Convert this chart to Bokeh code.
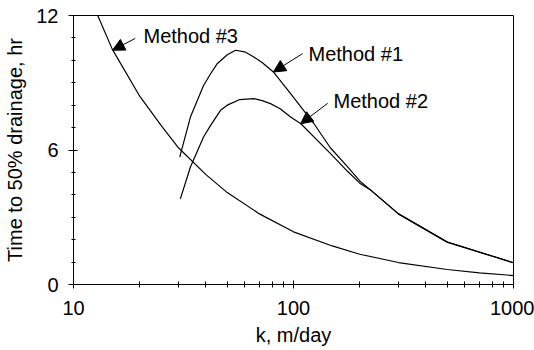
from bokeh.plotting import figure
from bokeh.models import FixedTicker, NumeralTickFormatter, Arrow, NormalHead, Label
from bokeh.embed import file_html
from bokeh.resources import INLINE

# --- data ---
k1 = [30.4, 34, 39, 42, 45, 50, 54.5, 60, 66, 72, 81, 97, 110, 124, 147, 175, 200, 225, 300, 500, 1000]
t1 = [5.68, 7.47, 8.88, 9.4, 9.85, 10.25, 10.45, 10.38, 10.15, 9.9, 9.48, 8.51, 7.82, 7.17, 6.1, 5.28, 4.62, 4.2, 3.15, 1.89, 0.97]

k2 = [30.6, 34, 39, 42, 46.6, 50, 57, 66, 72, 78.6, 87, 97, 108, 147, 176, 200, 225, 300, 500, 1000]
t2 = [3.82, 5.24, 6.58, 7.1, 7.77, 8.0, 8.25, 8.29, 8.2, 8.07, 7.84, 7.47, 7.17, 5.85, 5.05, 4.52, 4.2, 3.15, 1.89, 0.97]

k3 = [12.5, 15, 20, 25, 30, 40, 50, 70, 100, 150, 200, 300, 500, 700, 1000]
t3 = [12.3, 10.5, 8.4, 7.1, 6.1, 4.9, 4.1, 3.15, 2.35, 1.72, 1.35, 0.98, 0.67, 0.52, 0.40]

x_ticks = [10, 100, 1000]
x_minor = [20, 30, 40, 50, 60, 70, 80, 90, 200, 300, 400, 500, 600, 700, 800, 900]
y_ticks = [0, 6, 12]
y_minor = [1, 2, 3, 4, 5, 7, 8, 9, 10, 11]

# annotation: name, text anchor (k, t), arrow tail (k, t), arrow tip (k, t)
ann_names = ["Method #3", "Method #1", "Method #2"]
ann_text_k = [20.8, 117, 152]
ann_text_t = [11.1, 10.3, 8.2]
ann_tail_k = [19.1, 110, 143]
ann_tail_t = [10.98, 10.3, 8.08]
ann_tip_k = [15.04, 81, 107.7]
ann_tip_t = [10.45, 9.48, 7.17]

FONT = "Liberation Sans"

p = figure(width=534, height=350, x_axis_type="log",
           x_range=(10, 1000), y_range=(0, 12),
           output_backend="svg", toolbar_location=None,
           min_border_left=73, min_border_right=21,
           min_border_top=15, min_border_bottom=66)

p.xgrid.visible = False
p.ygrid.visible = False
p.outline_line_color = "black"
p.outline_line_width = 1
p.background_fill_color = "white"
p.border_fill_color = "white"

for kk, tt in ((k1, t1), (k2, t2), (k3, t3)):
    p.line(kk, tt, line_color="black", line_width=1.2)

xa = p.xaxis[0]
xa.ticker = FixedTicker(ticks=x_ticks, minor_ticks=x_minor)
xa.formatter = NumeralTickFormatter(format="0")
xa.axis_label = "k, m/day"
ya = p.yaxis[0]
ya.ticker = FixedTicker(ticks=y_ticks, minor_ticks=y_minor)
ya.axis_label = "Time to 50% drainage, hr"

for ax in (xa, ya):
    ax.axis_line_color = "black"
    ax.major_tick_line_color = "black"
    ax.minor_tick_line_color = "black"
    ax.major_label_text_font = FONT
    ax.major_label_text_font_size = "20px"
    ax.major_label_text_color = "black"
    ax.axis_label_text_font = FONT
    ax.axis_label_text_font_size = "20px"
    ax.axis_label_text_font_style = "normal"
    ax.axis_label_text_color = "black"

xa.major_tick_in = 4
xa.major_tick_out = 4
xa.minor_tick_in = 3
xa.minor_tick_out = 3
xa.major_label_standoff = 12
xa.axis_label_standoff = 6

ya.major_tick_in = 4
ya.major_tick_out = 5
ya.minor_tick_in = 2
ya.minor_tick_out = 2
ya.major_label_standoff = 10
ya.axis_label_standoff = 7

for i, name in enumerate(ann_names):
    head = NormalHead(size=12, fill_color="black", line_color="black",
                      hatch_pattern=".", hatch_color="white", hatch_scale=4)
    p.add_layout(Arrow(end=head, x_start=ann_tail_k[i], y_start=ann_tail_t[i],
                       x_end=ann_tip_k[i], y_end=ann_tip_t[i],
                       line_color="black", line_width=1))
    p.add_layout(Label(x=ann_text_k[i], y=ann_text_t[i], text=name,
                       text_font=FONT, text_font_size="20px",
                       text_baseline="middle", text_align="left",
                       text_color="black"))

open("out.html", "w").write(file_html(p, INLINE))
